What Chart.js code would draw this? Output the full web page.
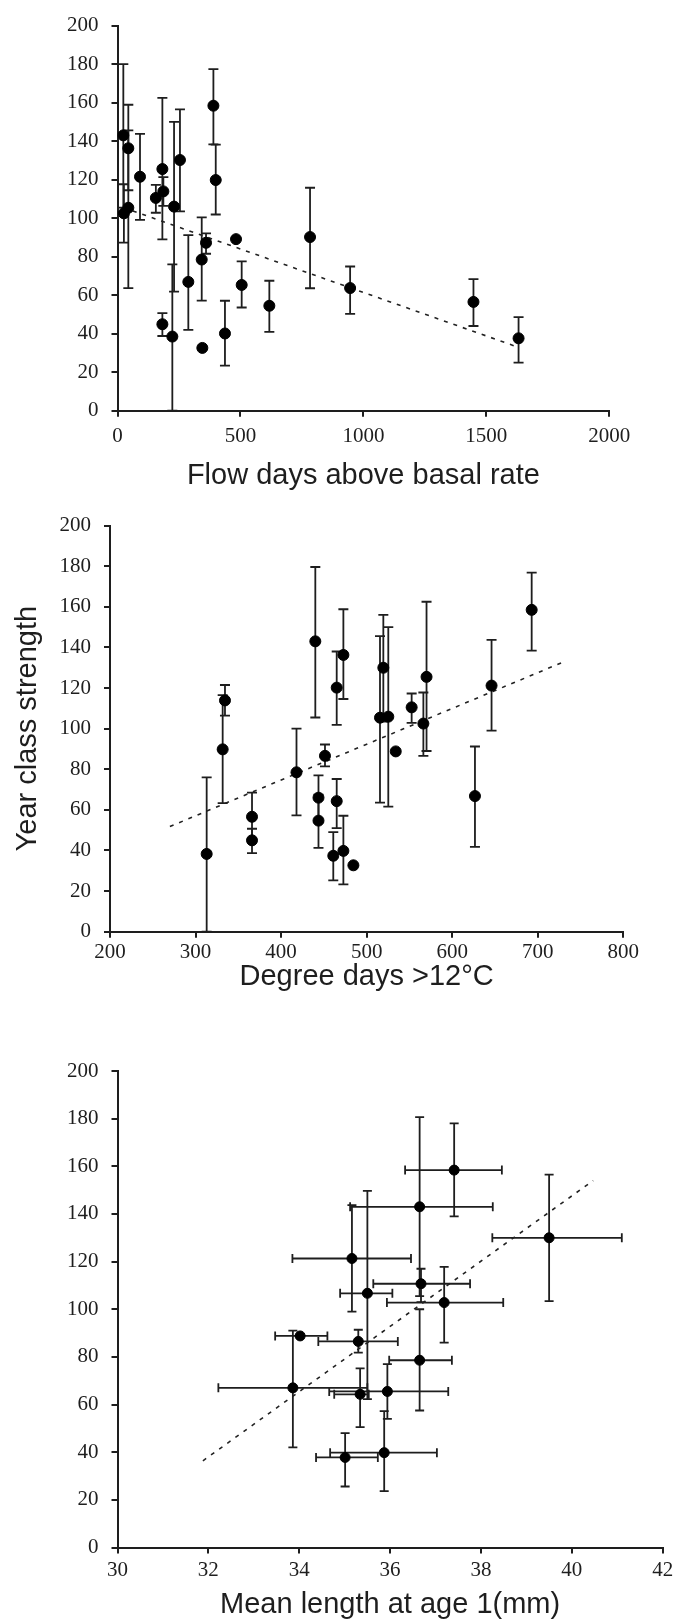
<!DOCTYPE html>
<html>
<head>
<meta charset="utf-8">
<script src="https://cdn.jsdelivr.net/npm/chart.js@4.4.1/dist/chart.umd.min.js"></script>
<style>
  html, body { margin: 0; padding: 0; background: #fff; }
  body { width: 678px; height: 1622px; position: relative; overflow: hidden; }
  .panel { position: absolute; left: 0; width: 678px; }
  canvas { display: block; }
</style>
</head>
<body>
<div class="panel" style="top:0px"><canvas id="flowChart" width="678" height="500"></canvas></div>
<div class="panel" style="top:500px"><canvas id="degreeChart" width="678" height="525"></canvas></div>
<div class="panel" style="top:1040px"><canvas id="lengthChart" width="678" height="582"></canvas></div>
<script>
// year class strength (shared y values, mean +/- error)
// panel 1: flow days above basal rate
const flowDays   = [23.7, 26, 44, 44, 91.5, 156, 182.5, 186.5, 182.5, 230, 223, 254, 288, 342.5, 345, 360, 390, 399.5, 437, 482, 505, 617.5, 783, 946, 1447.6, 1631];
const flowYcs    = [143, 102.5, 136.3, 105.4, 121.5, 110.5, 125.5, 113.9, 44.9, 106, 38.5, 130.2, 66.9, 78.5, 32.6, 87.2, 158.4, 119.8, 40.1, 89.1, 65.3, 54.5, 90.2, 63.7, 56.5, 37.6];
const flowYcsHi  = [180, 117.6, 158.9, 145.6, 143.8, 117.3, 162.5, 121.3, 50.7, 150, 76, 156.5, 91.2, 100.4, 32.6, 92.1, 177.4, 138.2, 57.1, 89.1, 77.5, 67.5, 115.8, 74.9, 68.3, 48.6];
const flowYcsLo  = [105.5, 87.3, 114.5, 63.7, 99.1, 102.8, 89, 106.4, 38.8, 61.8, 0, 103.5, 42, 57.2, 32.6, 81.5, 138.3, 101.9, 23.4, 89.1, 53.6, 40.9, 63.6, 50.3, 44, 25];
const flowTrendX = [24, 1631];
const flowTrendY = [105.5, 32.9];

// panel 2: degree days > 12 C
const degDays    = [313, 334.4, 331.7, 366, 366, 418, 440, 443.7, 443.7, 451.3, 465, 465, 461, 472.8, 472.8, 484.5, 515.6, 519.5, 525.3, 534, 552.6, 566.3, 570, 626.6, 646, 692.9];
const degYcs     = [38.3, 113.9, 89.8, 56.6, 45, 78.5, 143, 66, 54.7, 86.6, 120.2, 64.3, 37.4, 136.3, 39.8, 32.7, 105.4, 130, 105.9, 88.8, 110.5, 102.5, 125.5, 66.8, 121.2, 158.5];
const degYcsHi   = [76, 121.5, 116.5, 68.5, 50.7, 100, 179.6, 77, 67.5, 92.2, 138, 75.2, 49, 158.8, 57.1, 32.7, 145.6, 156, 150, 88.8, 117.3, 117.8, 162.5, 91.2, 143.7, 176.8];
const degYcsLo   = [0, 106.4, 63.3, 44, 38.7, 57.3, 105.5, 54, 41.3, 81.4, 101.9, 51, 25.3, 114.6, 23.3, 32.7, 63.6, 103.5, 61.6, 88.8, 102.8, 86.6, 89, 41.8, 99, 138.4];
const degTrendX  = [270, 732];
const degTrendY  = [51.8, 133.2];

// panel 3: mean length at age 1 (mm)
const lenMm      = [37.41, 36.65, 35.16, 39.5, 35.5, 36.68, 37.19, 35.3, 36.65, 35.34, 33.86, 35.94, 35.01, 35.87, 34.02];
const lenMmLo    = [36.33, 35.12, 33.85, 38.25, 34.9, 35.63, 35.93, 34.42, 35.98, 34.77, 32.22, 34.66, 34.37, 34.68, 33.47];
const lenMmHi    = [38.46, 38.26, 36.46, 41.1, 36.05, 37.76, 38.49, 36.17, 37.36, 35.53, 35.5, 37.28, 35.73, 37.03, 34.62];
const lenYcs     = [158.4, 143, 121.3, 130, 106.7, 110.7, 102.8, 86.5, 78.6, 64.3, 67, 65.5, 37.8, 39.8, 88.8];
const lenYcsHi   = [178, 180.6, 143.7, 156.5, 149.7, 117, 117.8, 91.4, 100, 75.2, 91, 77, 48, 57.2, 88.8];
const lenYcsLo   = [139, 105.5, 99, 103.4, 62.3, 103, 86, 81.8, 57.5, 50.5, 42, 54, 25.6, 23.7, 88.8];
const lenTrendX  = [31.88, 40.47];
const lenTrendY  = [36.4, 154];

const yTicks = { min: 0, max: 200, step: 20 };

const tickFont  = { family: '"Liberation Serif", "Times New Roman", serif', size: 21 };
const titleFont = { family: '"Liberation Sans", Arial, sans-serif', size: 29 };
const ink = '#1e1e1e';

// draws vertical (and horizontal if given) error bars with caps
const errorBars = {
  id: 'errorBars',
  beforeDatasetsDraw(chart) {
    const ctx = chart.ctx;
    const xs = chart.scales.x, ys = chart.scales.y;
    chart.data.datasets.forEach(ds => {
      if (!ds.yHi) return;
      const cap = ds.capHalf || 5;
      ctx.save();
      ctx.strokeStyle = ink;
      ctx.lineWidth = 1.8;
      ds.data.forEach((p, i) => {
        const px = xs.getPixelForValue(p.x);
        const py = ys.getPixelForValue(p.y);
        const hi = ys.getPixelForValue(ds.yHi[i]);
        const lo = ys.getPixelForValue(ds.yLo[i]);
        ctx.beginPath();
        if (Math.abs(hi - py) > 0.5) {
          ctx.moveTo(px, py); ctx.lineTo(px, hi);
          ctx.moveTo(px - cap, hi); ctx.lineTo(px + cap, hi);
        }
        if (Math.abs(lo - py) > 0.5) {
          ctx.moveTo(px, py); ctx.lineTo(px, lo);
          ctx.moveTo(px - cap, lo); ctx.lineTo(px + cap, lo);
        }
        if (ds.xLo) {
          const l = xs.getPixelForValue(ds.xLo[i]);
          const r = xs.getPixelForValue(ds.xHi[i]);
          ctx.moveTo(l, py); ctx.lineTo(r, py);
          ctx.moveTo(l, py - cap); ctx.lineTo(l, py + cap);
          ctx.moveTo(r, py - cap); ctx.lineTo(r, py + cap);
        }
        ctx.stroke();
      });
      ctx.restore();
    });
  }
};

function makeChart(id, o) {
  const H = document.getElementById(id).height;
  const points = o.xs.map((x, i) => ({ x: x, y: o.ys[i] }));
  const trend = o.trendX.map((x, i) => ({ x: x, y: o.trendY[i] }));
  return new Chart(document.getElementById(id).getContext('2d'), {
    type: 'scatter',
    data: {
      datasets: [
        {
          data: points,
          yHi: o.hi, yLo: o.lo, xLo: o.xLo, xHi: o.xHi, capHalf: o.cap,
          backgroundColor: '#000',
          borderColor: '#000',
          pointRadius: o.radius,
          pointHoverRadius: o.radius,
          order: 1
        },
        {
          type: 'line',
          data: trend,
          borderColor: '#222',
          borderWidth: 1.6,
          borderDash: [4, 6],
          pointRadius: 0,
          fill: false,
          order: 2
        }
      ]
    },
    plugins: [errorBars],
    options: {
      responsive: false,
      devicePixelRatio: 1,
      animation: false,
      events: [],
      layout: { padding: { left: 0, top: o.top, right: 678 - o.right, bottom: 0 } },
      plugins: { legend: { display: false }, tooltip: { enabled: false } },
      scales: {
        x: {
          type: 'linear',
          min: o.xMin, max: o.xMax,
          afterFit(s) { s.height = H - o.bottom; },
          ticks: { stepSize: o.xStep, autoSkip: false, maxRotation: 0, padding: o.xLabelPad, color: ink, font: tickFont,
                   callback: v => String(v) },
          grid: { drawOnChartArea: false, drawTicks: true, tickLength: 6, color: ink, lineWidth: 2 },
          border: { display: true, color: ink, width: 2 },
          title: { display: true, text: o.xTitle, color: ink, font: titleFont, padding: { top: 0, bottom: o.xTitlePad } }
        },
        y: {
          type: 'linear',
          min: yTicks.min, max: yTicks.max,
          afterFit(s) { s.width = o.left; },
          ticks: { stepSize: yTicks.step, padding: 13, color: ink, font: tickFont, callback: v => String(v) },
          grid: { drawOnChartArea: false, drawTicks: true, tickLength: 6, color: ink, lineWidth: 2 },
          border: { display: true, color: ink, width: 2 },
          title: { display: !!o.yTitle, text: o.yTitle || '', color: ink, font: titleFont, padding: { top: 11, bottom: 0 } }
        }
      }
    }
  });
}

makeChart('flowChart', {
  xs: flowDays, ys: flowYcs, hi: flowYcsHi, lo: flowYcsLo,
  trendX: flowTrendX, trendY: flowTrendY,
  xMin: 0, xMax: 2000, xStep: 500,
  left: 117.5, right: 609.3, top: 18.3, bottom: 410.7,
  xTitle: 'Flow days above basal rate', xTitlePad: 6.6, xLabelPad: 7,
  radius: 5.5, cap: 5
});

makeChart('degreeChart', {
  xs: degDays, ys: degYcs, hi: degYcsHi, lo: degYcsLo,
  trendX: degTrendX, trendY: degTrendY,
  xMin: 200, xMax: 800, xStep: 100,
  left: 110, right: 623.3, top: 17.3, bottom: 431.7,
  xTitle: 'Degree days >12°C', xTitlePad: 31, xLabelPad: 2,
  yTitle: 'Year class strength',
  radius: 5.5, cap: 5
});

makeChart('lengthChart', {
  xs: lenMm, ys: lenYcs, hi: lenYcsHi, lo: lenYcsLo, xLo: lenMmLo, xHi: lenMmHi,
  trendX: lenTrendX, trendY: lenTrendY,
  xMin: 30, xMax: 42, xStep: 2,
  left: 117.5, right: 662.7, top: 31, bottom: 507.5,
  xTitle: 'Mean length at age 1(mm)', xTitlePad: 0, xLabelPad: 4,
  radius: 5, cap: 4.5
});
</script>
</body>
</html>
